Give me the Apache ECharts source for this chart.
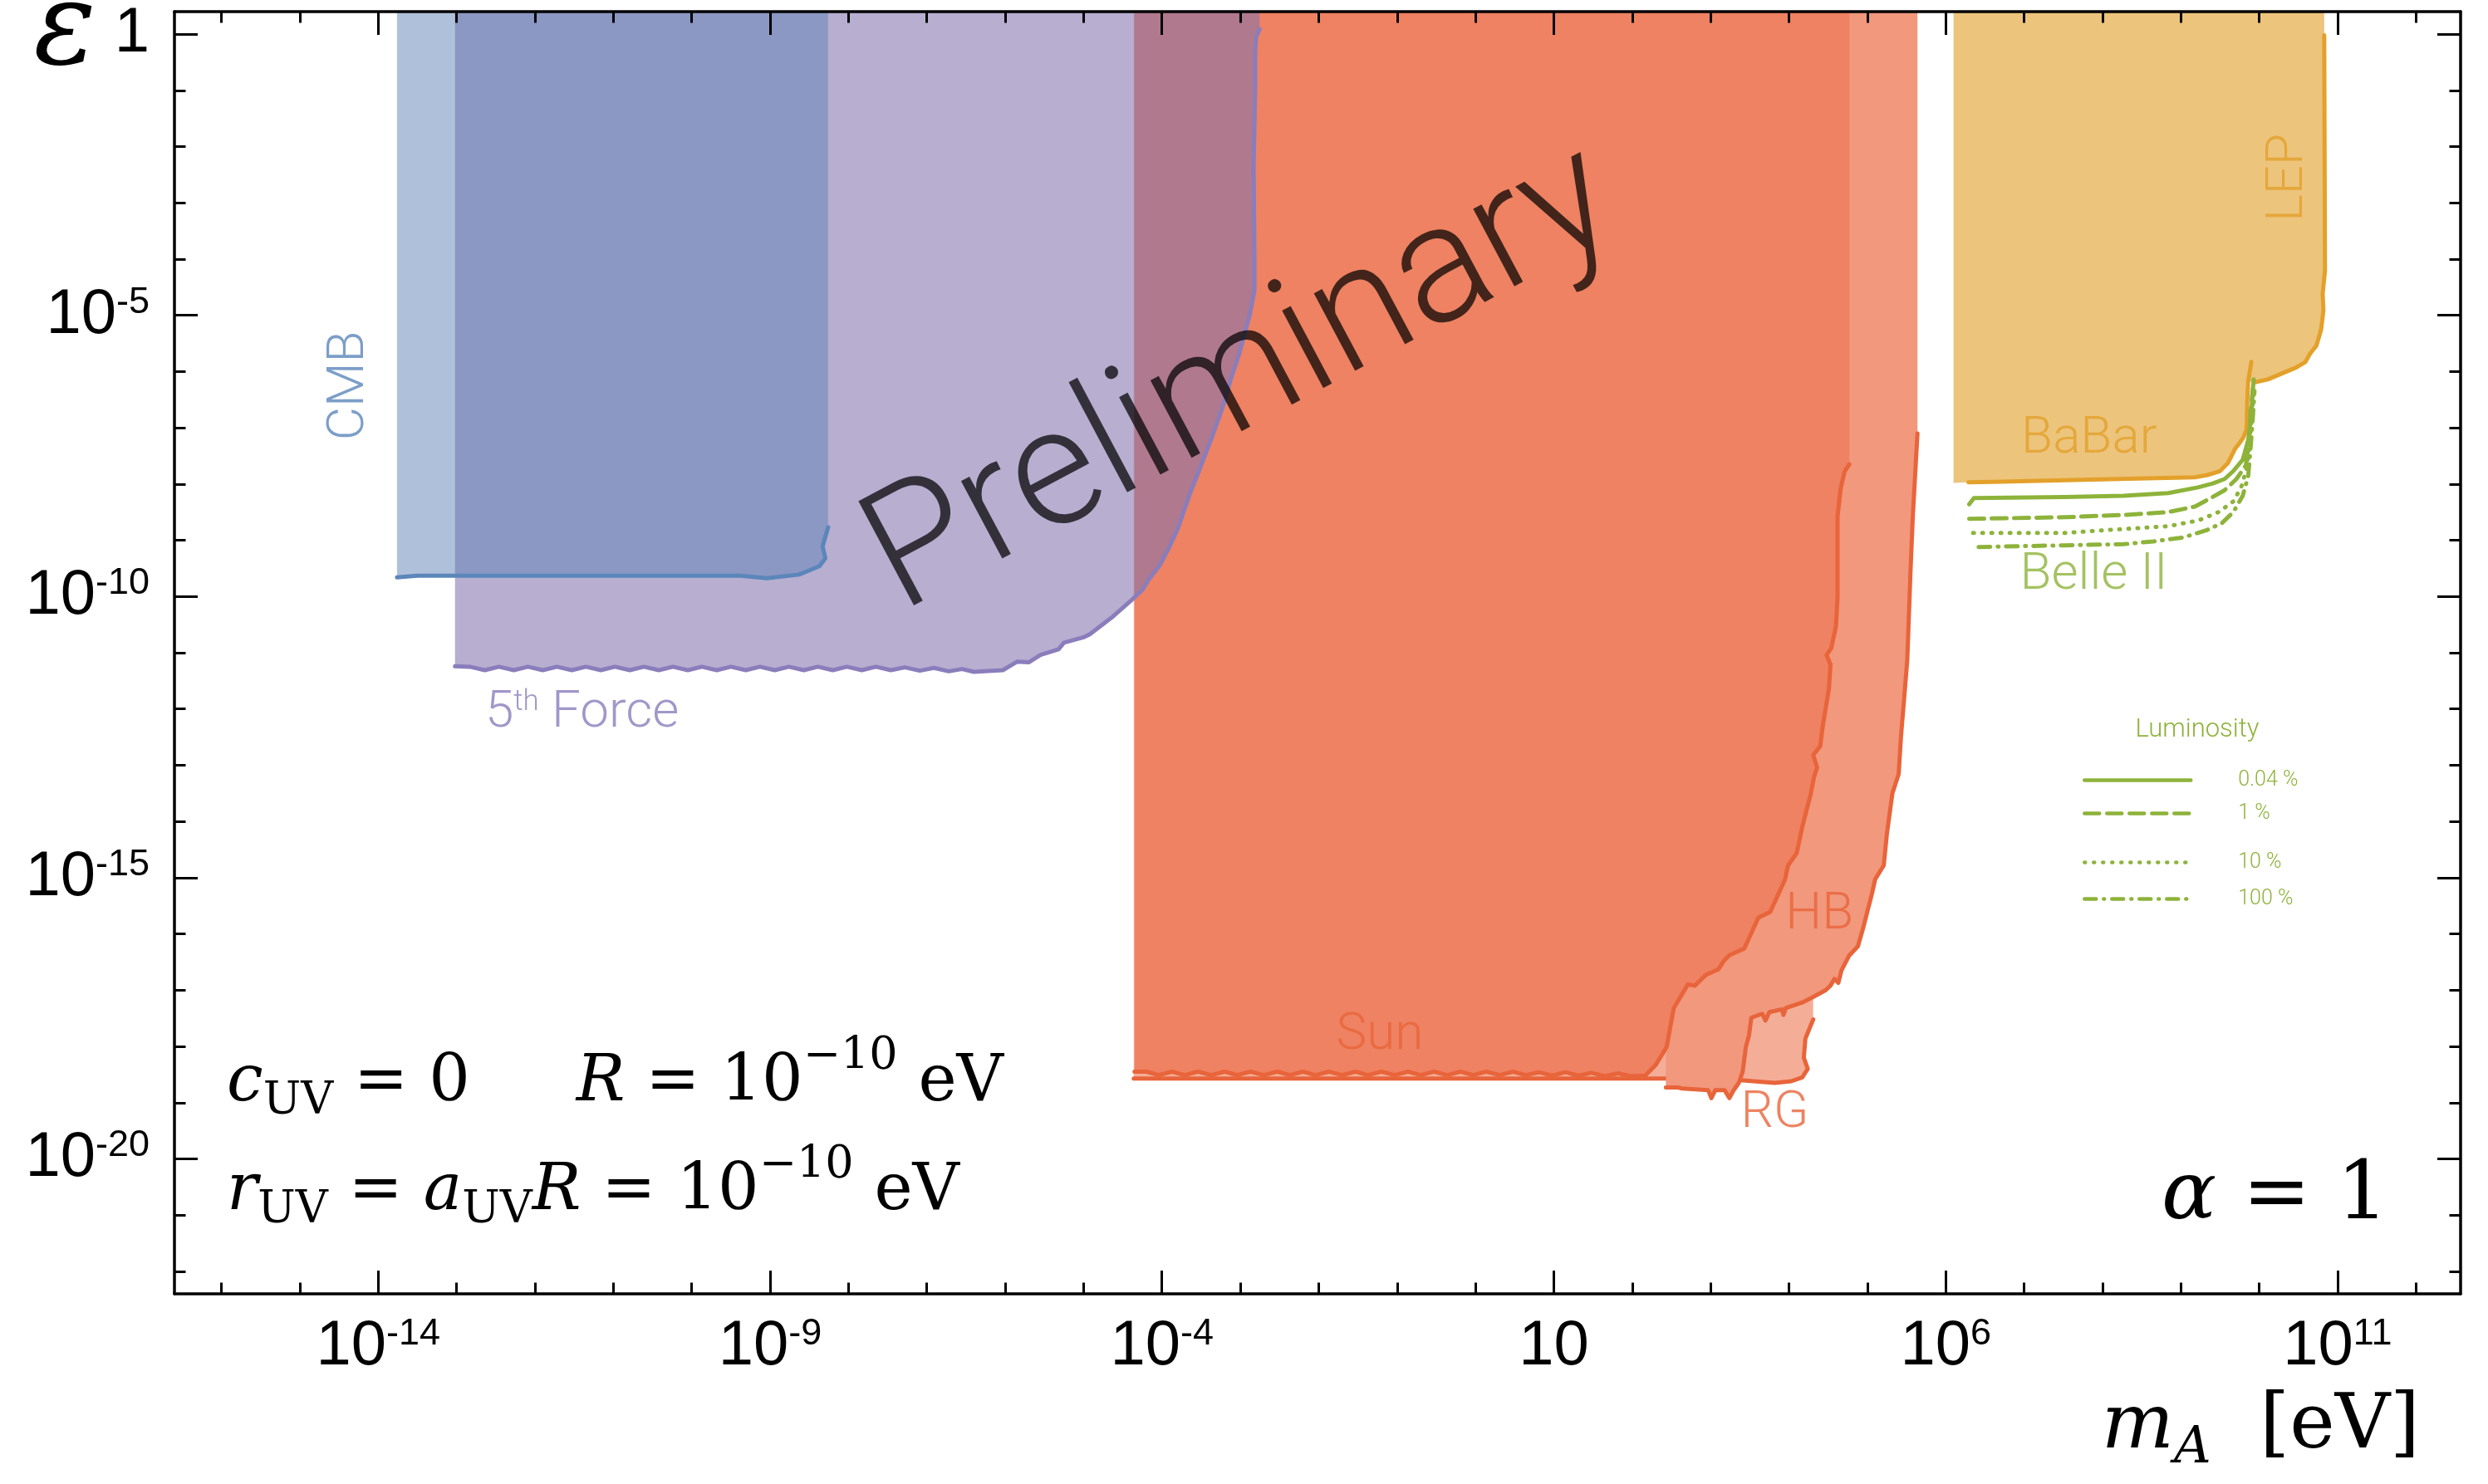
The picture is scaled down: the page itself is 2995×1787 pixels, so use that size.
<!DOCTYPE html>
<html>
<head>
<meta charset="utf-8">
<script src="https://cdn.jsdelivr.net/npm/echarts@6/dist/echarts.min.js"></script>
<style>
  html, body { margin: 0; padding: 0; background: #fff; }
  #chart { width: 2995px; height: 1787px; }
</style>
</head>
<body>
<div id="chart"></div>
<script>
// all values are log10: x = log10(m_A / eV), y = log10(epsilon)
var xMin = -16.6, xMax = 12.57, yMin = -22.4, yMax = 0.4;

var xMajor = [-14, -9, -4, 1, 6, 11];
var xMinor = [-16, -15, -14, -13, -12, -11, -10, -9, -8, -7, -6, -5, -4, -3, -2, -1, 0, 1, 2, 3, 4, 5, 6, 7, 8, 9, 10, 11, 12];
var yMajor = [-20, -15, -10, -5, 0];
var yMinor = [-22, -21, -20, -19, -18, -17, -16, -15, -14, -13, -12, -11, -10, -9, -8, -7, -6, -5, -4, -3, -2, -1, 0];

var cmbBound = [[-13.76, -9.66], [-13.5, -9.63], [-9.38, -9.63], [-9.04, -9.675], [-8.63, -9.61],
  [-8.37, -9.46], [-8.295, -9.32], [-8.33, -9.11], [-8.26, -8.77]];

var fifthBound = [[-13.02, -11.24], [-12.83, -11.25], [-12.64, -11.31], [-12.46, -11.25], [-12.27, -11.31],
  [-12.09, -11.25], [-11.90, -11.31], [-11.72, -11.25], [-11.53, -11.31], [-11.35, -11.25], [-11.16, -11.31],
  [-10.98, -11.25], [-10.79, -11.31], [-10.61, -11.25], [-10.42, -11.31], [-10.24, -11.25], [-10.05, -11.31],
  [-9.87, -11.25], [-9.68, -11.31], [-9.50, -11.25], [-9.31, -11.31], [-9.13, -11.25], [-8.94, -11.31],
  [-8.76, -11.25], [-8.57, -11.31], [-8.39, -11.25], [-8.20, -11.31], [-8.02, -11.25], [-7.83, -11.31],
  [-7.65, -11.25], [-7.46, -11.31], [-7.28, -11.26], [-7.09, -11.32], [-6.91, -11.27], [-6.72, -11.33],
  [-6.55, -11.29], [-6.40, -11.34], [-6.03, -11.31], [-5.85, -11.16], [-5.70, -11.17], [-5.55, -11.04],
  [-5.32, -10.94], [-5.25, -10.82], [-4.99, -10.72], [-4.92, -10.67], [-4.62, -10.35], [-4.40, -10.08],
  [-4.25, -9.88], [-4.17, -9.70], [-4.03, -9.45], [-3.90, -9.10], [-3.80, -8.80], [-3.70, -8.40],
  [-3.63, -8.12], [-3.56, -7.88], [-3.46, -7.52], [-3.36, -7.16], [-3.22, -6.61], [-3.12, -6.13],
  [-3.02, -5.71], [-2.88, -4.99], [-2.82, -4.56], [-2.82, -3.97], [-2.83, -2.35], [-2.81, -0.87],
  [-2.81, -0.31], [-2.80, -0.06], [-2.755, 0.09]];

var sunBound = [[-4.35, -18.45], [-4.20, -18.45], [-4.04, -18.51], [-3.87, -18.45], [-3.71, -18.51],
  [-3.54, -18.45], [-3.37, -18.51], [-3.20, -18.45], [-3.04, -18.51], [-2.87, -18.45], [-2.70, -18.51],
  [-2.53, -18.45], [-2.37, -18.51], [-2.20, -18.45], [-2.04, -18.51], [-1.87, -18.45], [-1.70, -18.51],
  [-1.53, -18.45], [-1.37, -18.51], [-1.20, -18.45], [-1.03, -18.51], [-0.86, -18.45], [-0.70, -18.51],
  [-0.53, -18.45], [-0.36, -18.51], [-0.19, -18.45], [-0.03, -18.51], [0.14, -18.45], [0.31, -18.51],
  [0.48, -18.45], [0.64, -18.51], [0.81, -18.46], [0.98, -18.52], [1.15, -18.46], [1.31, -18.52],
  [1.48, -18.47], [1.65, -18.53], [1.82, -18.48], [1.98, -18.53], [2.166, -18.52], [2.30, -18.33],
  [2.44, -18.01], [2.53, -17.32], [2.71, -16.90], [2.80, -16.92], [2.94, -16.73], [3.10, -16.63],
  [3.17, -16.48], [3.24, -16.38], [3.43, -16.26], [3.61, -15.71], [3.76, -15.61], [3.84, -15.37],
  [3.95, -15.03], [3.99, -14.78], [4.10, -14.56], [4.17, -14.10], [4.21, -13.88], [4.28, -13.50],
  [4.32, -13.21], [4.36, -13.04], [4.31, -12.82], [4.40, -12.66], [4.43, -12.32], [4.47, -11.98],
  [4.51, -11.64], [4.53, -11.21], [4.48, -11.04], [4.54, -10.92], [4.60, -10.53], [4.62, -10.03],
  [4.62, -8.58], [4.66, -8.08], [4.71, -7.78], [4.77, -7.65]];

var rgBound = [[-4.36, -18.57], [2.43, -18.57], [3.38, -18.60], [3.82, -18.65], [4.03, -18.62],
  [4.17, -18.55], [4.24, -18.40], [4.19, -18.20], [4.21, -17.86], [4.31, -17.52]];

var hbBound = [[2.43, -18.73], [2.585, -18.73], [2.64, -18.75], [2.97, -18.78], [3.01, -18.92],
  [3.06, -18.78], [3.18, -18.78], [3.24, -18.92], [3.29, -18.79], [3.36, -18.65], [3.41, -18.45],
  [3.45, -18.01], [3.49, -17.81], [3.52, -17.49], [3.66, -17.42], [3.70, -17.54], [3.75, -17.39],
  [3.91, -17.34], [3.93, -17.44], [3.96, -17.32], [4.17, -17.22], [4.31, -17.12], [4.47, -17.00],
  [4.53, -16.92], [4.58, -16.80], [4.63, -16.87], [4.67, -16.65], [4.77, -16.38], [4.80, -16.34],
  [4.88, -16.22], [4.95, -15.88], [5.06, -15.28], [5.10, -15.03], [5.21, -14.78], [5.25, -14.22],
  [5.32, -13.50], [5.40, -13.16], [5.43, -12.49], [5.51, -11.13], [5.55, -9.60], [5.58, -8.59],
  [5.64, -7.10]];

var babarLine = [[6.29, -7.97], [6.61, -7.96], [8.22, -7.91], [9.18, -7.88], [9.34, -7.84], [9.50, -7.77],
  [9.60, -7.63], [9.64, -7.52], [9.69, -7.38], [9.75, -7.27], [9.80, -7.17], [9.84, -7.03], [9.85, -6.46],
  [9.86, -6.18], [9.90, -5.83]];
var lepLine = [[9.95, -6.19], [10.11, -6.14], [10.23, -6.07], [10.35, -6.00], [10.47, -5.93], [10.59, -5.83],
  [10.65, -5.68], [10.73, -5.54], [10.79, -5.26], [10.82, -4.91], [10.81, -4.62], [10.84, -4.20], [10.83, -0.02]];
var goldEdge = [[6.10, -7.98]];

var belleSolid = [[6.30, -8.36], [6.36, -8.25], [7.52, -8.23], [8.27, -8.21], [8.84, -8.16], [9.22, -8.06],
  [9.41, -7.99], [9.56, -7.91], [9.67, -7.77], [9.79, -7.57], [9.86, -7.22], [9.90, -6.78], [9.91, -6.48], [9.93, -6.14]];
var belleDashed = [[6.30, -8.62], [7.52, -8.59], [8.27, -8.55], [8.84, -8.50], [9.18, -8.40], [9.37, -8.26],
  [9.56, -8.11], [9.71, -7.91], [9.83, -7.67], [9.87, -7.22], [9.89, -6.73], [9.92, -6.30]];
var belleDotted = [[6.35, -8.87], [7.52, -8.87], [8.27, -8.80], [8.84, -8.75], [9.22, -8.65], [9.48, -8.50],
  [9.67, -8.31], [9.77, -8.06], [9.84, -7.72], [9.88, -7.22], [9.91, -6.73], [9.93, -6.30]];
var belleDashDot = [[6.42, -9.12], [7.52, -9.09], [8.27, -9.07], [8.65, -9.02], [9.03, -8.95], [9.33, -8.82],
  [9.52, -8.70], [9.67, -8.50], [9.79, -8.21], [9.86, -7.86], [9.89, -7.37], [9.92, -6.80], [9.94, -6.35]];
var lumiNames = ['0.04 %', '1 %', '10 %', '100 %'];

var labelNames = ['CMB', '5th Force', 'Sun', 'HB', 'RG', 'BaBar', 'Belle II', 'LEP'];
var labelAt = [[-14.36, -6.25], [-11.40, -12.09], [-1.22, -17.82], [4.39, -15.67], [3.82, -19.20],
  [7.83, -7.21], [7.89, -9.64], [10.38, -2.55]];

var orange = '#e8643a', purple = '#8a7dbb', blue = '#5b86ba', gold = '#e3a02a', green = '#8db33a';
var labelColors = [blue, purple, orange, orange, orange, gold, green, gold];
var labelRotate = [90, 0, 0, 0, 0, 0, 0, 90];

var chart = echarts.init(document.getElementById('chart'), null, { renderer: 'canvas' });

function closeToTop(bound) {
  var pts = [[bound[0][0], yMax]].concat(bound);
  pts.push([bound[bound.length - 1][0], yMax]);
  return pts;
}

function fillSeries(points, color, z) {
  return {
    type: 'custom', silent: true, clip: true, z: z,
    data: points,
    renderItem: function (params, api) {
      if (params.dataIndex !== 0) return null;
      return {
        type: 'polygon',
        shape: { points: points.map(function (p) { return api.coord(p); }) },
        style: { fill: color }
      };
    }
  };
}

function lineSeries(points, color, z, name, dash) {
  return {
    type: 'line', name: name, silent: true, z: z,
    data: points, symbol: 'none', showSymbol: false,
    lineStyle: { color: color, width: 5, type: dash || 'solid', cap: 'round', join: 'round' },
    itemStyle: { color: color }
  };
}

function powLabel(v) {
  if (v === 0) return '{b|1}';
  if (v === 1) return '{b|10}';
  return '{b|10}{s|' + v + '}';
}

var tickRich = {
  b: { fontSize: 76, fontFamily: 'Liberation Sans', color: '#000' },
  s: { fontSize: 45, fontFamily: 'Liberation Sans', color: '#000', verticalAlign: 'top' }
};

function axisPair(isX, pos, labels) {
  var base = {
    type: 'value', position: pos, z: 50,
    min: isX ? xMin : yMin, max: isX ? xMax : yMax,
    splitLine: { show: false }
  };
  var major = Object.assign({}, base, {
    axisLine: { show: true, onZero: false, lineStyle: { color: '#000', width: 3.5 } },
    axisTick: { show: true, inside: true, length: 28, customValues: isX ? xMajor : yMajor,
      lineStyle: { color: '#000', width: 3 } },
    axisLabel: labels ? { show: true, customValues: isX ? xMajor : yMajor, formatter: powLabel,
      margin: isX ? 26 : 30, rich: tickRich } : { show: false }
  });
  var minor = Object.assign({}, base, {
    axisLine: { show: false, onZero: false },
    axisTick: { show: true, inside: true, length: 13.5, customValues: isX ? xMinor : yMinor,
      lineStyle: { color: '#000', width: 3 } },
    axisLabel: { show: false }
  });
  return [major, minor];
}

var serif = 'DejaVu Serif';
var mathRich = {
  it: { fontFamily: serif, fontStyle: 'italic', fontSize: 78, lineHeight: 118, color: '#000' },
  rm: { fontFamily: serif, fontSize: 78, lineHeight: 118, color: '#000' },
  sub: { fontFamily: serif, fontSize: 54, verticalAlign: 'bottom', color: '#000', padding: [0, 0, 10, 0] },
  sup: { fontFamily: serif, fontSize: 54, verticalAlign: 'top', color: '#000' },
  gap: { width: 128 }
};

var series = [
  fillSeries(closeToTop(rgBound), '#f4ae98', 1),
  lineSeries(rgBound, orange, 2),
  fillSeries(closeToTop(hbBound), '#f1987d', 3),
  lineSeries(hbBound, orange, 4),
  fillSeries(closeToTop(sunBound), '#ee8262', 5),
  lineSeries(sunBound, orange, 6),
  fillSeries(closeToTop(fifthBound), 'rgba(131,116,174,0.58)', 7),
  lineSeries(fifthBound, purple, 8),
  fillSeries(closeToTop(cmbBound), 'rgba(95,129,181,0.5)', 9),
  lineSeries(cmbBound, blue, 10),
  fillSeries(closeToTop(goldEdge.concat(babarLine.slice(0, 14), lepLine)), '#ecc47c', 5),
  lineSeries(babarLine, gold, 6),
  lineSeries(lepLine, gold, 6),
  lineSeries(belleSolid, green, 7, lumiNames[0], 'solid'),
  lineSeries(belleDashed, green, 7, lumiNames[1], [18, 9]),
  lineSeries(belleDotted, green, 7, lumiNames[2], [1, 10]),
  lineSeries(belleDashDot, green, 7, lumiNames[3], [14, 9, 1, 9]),
  {
    type: 'scatter', silent: true, z: 30, symbolSize: 0,
    data: labelNames.map(function (n, i) {
      return { name: n, value: labelAt[i], label: { color: labelColors[i], rotate: labelRotate[i] } };
    }),
    label: {
      show: true, position: 'inside', fontFamily: 'Roboto', fontWeight: 300, fontSize: 62,
      formatter: function (p) {
        return p.name === '5th Force' ? '{n|5}{s|th}{n| Force}' : p.name;
      },
      rich: {
        n: { fontFamily: 'Roboto', fontWeight: 300, fontSize: 62 },
        s: { fontFamily: 'Roboto', fontWeight: 300, fontSize: 35, verticalAlign: 'top' }
      }
    }
  }
];

var legendRows = [938, 978, 1037, 1081];
var legends = lumiNames.map(function (n, i) {
  return {
    data: [n], left: 2502, top: legendRows[i] - 16, orient: 'horizontal',
    itemWidth: 128, itemHeight: 14, selectedMode: false,
    itemStyle: { opacity: 0 },
    lineStyle: { width: 4.5 },
    textStyle: { color: green, fontFamily: 'Roboto', fontWeight: 300, fontSize: 25, padding: [0, 0, 0, 52] }
  };
});

var option = {
  backgroundColor: '#fff',
  animation: false,
  grid: { left: 210, right: 33, top: 14, bottom: 229, containLabel: false },
  xAxis: axisPair(true, 'bottom', true).concat(axisPair(true, 'top', false)),
  yAxis: axisPair(false, 'left', true).concat(axisPair(false, 'right', false)),
  legend: legends,
  series: series,
  graphic: [
    { type: 'text', z: 100, x: 1496, y: 462, rotation: 28 * Math.PI / 180,
      style: { text: 'Preliminary', fontFamily: 'Roboto', fontWeight: 300, fontSize: 200,
        fill: 'rgba(0,0,0,0.72)', align: 'center', verticalAlign: 'middle' } },
    { type: 'text', z: 100, x: 78, y: 40,
      style: { text: 'ε', fontFamily: 'DejaVu Serif', fontStyle: 'italic', fontSize: 140, fill: '#000',
        align: 'center', verticalAlign: 'middle' } },
    { type: 'text', z: 100, x: 2645, y: 879,
      style: { text: 'Luminosity', fontFamily: 'Roboto', fontWeight: 300, fontSize: 31, fill: green,
        align: 'center', verticalAlign: 'middle' } },
    { type: 'text', z: 100, x: 273, y: 1305,
      style: { text: '{it|c}{sub|UV}{rm| = 0}{gap| }{it|R}{rm| = 10}{sup|−10}{rm| eV}', rich: mathRich,
        align: 'left', verticalAlign: 'middle' } },
    { type: 'text', z: 100, x: 273, y: 1436,
      style: { text: '{it|r}{sub|UV}{rm| = }{it|a}{sub|UV}{it|R}{rm| = 10}{sup|−10}{rm| eV}', rich: mathRich,
        align: 'left', verticalAlign: 'middle' } },
    { type: 'text', z: 100, x: 2875, y: 1442,
      style: { text: '{it|α}{rm| = 1}', align: 'right', verticalAlign: 'middle',
        rich: {
          it: { fontFamily: serif, fontStyle: 'italic', fontSize: 98, color: '#000' },
          rm: { fontFamily: serif, fontSize: 98, color: '#000' }
        } } },
    { type: 'text', z: 100, x: 2913, y: 1719,
      style: { text: '{it|m}{sub|A}{rm|  [eV]}', align: 'right', verticalAlign: 'middle',
        rich: {
          it: { fontFamily: serif, fontStyle: 'italic', fontSize: 92, lineHeight: 130, color: '#000' },
          rm: { fontFamily: serif, fontSize: 92, lineHeight: 130, color: '#000' },
          sub: { fontFamily: serif, fontStyle: 'italic', fontSize: 62, verticalAlign: 'bottom', color: '#000',
            padding: [0, 0, 8, 0] }
        } } }
  ]
};

chart.setOption(option);
window.addEventListener('resize', function () { chart.resize(); });
</script>
</body>
</html>
